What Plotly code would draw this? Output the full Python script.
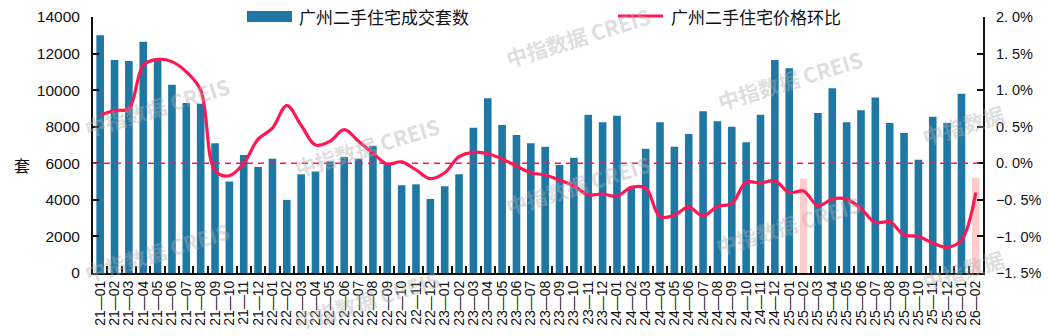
import plotly.graph_objects as go

# Month labels (YY-MM)
months = [
    "21-01", "21-02", "21-03", "21-04", "21-05", "21-06", "21-07", "21-08", "21-09", "21-10", "21-11", "21-12",
    "22-01", "22-02", "22-03", "22-04", "22-05", "22-06", "22-07", "22-08", "22-09", "22-10", "22-11", "22-12",
    "23-01", "23-02", "23-03", "23-04", "23-05", "23-06", "23-07", "23-08", "23-09", "23-10", "23-11", "23-12",
    "24-01", "24-02", "24-03", "24-04", "24-05", "24-06", "24-07", "24-08", "24-09", "24-10", "24-11", "24-12",
    "25-01", "25-02", "25-03", "25-04", "25-05", "25-06", "25-07", "25-08", "25-09", "25-10", "25-11", "25-12",
    "26-01", "26-02",
]

# Guangzhou second-hand housing transactions (units)
volume = [
    13000, 11650, 11600, 12650, 11650, 10300, 9300, 9250, 7100, 5000, 6450, 5800,
    6250, 4000, 5400, 5550, 6100, 6350, 6250, 6950, 5950, 4800, 4850, 4050,
    4750, 5400, 7950, 9550, 8100, 7550, 7100, 6900, 5900, 6300, 8650, 8250,
    8600, 4650, 6800, 8250, 6900, 7600, 8850, 8300, 8000, 7150, 8650, 11650,
    11200, 5150, 8750, 10100, 8250, 8900, 9600, 8200, 7650, 6200, 8550, 8200,
    9800, 5200,
]

# Guangzhou second-hand housing price, month-on-month change (%)
price_mom = [
    0.66, 0.72, 0.75, 1.34, 1.42, 1.39, 1.25, 1.00, -0.10, -0.17, 0.00, 0.33,
    0.48, 0.79, 0.52, 0.25, 0.30, 0.46, 0.30, 0.14, -0.01, 0.02, -0.09, -0.21,
    -0.13, 0.09, 0.15, 0.13, 0.06, -0.04, -0.13, -0.16, -0.23, -0.31, -0.43, -0.42,
    -0.45, -0.33, -0.34, -0.73, -0.71, -0.60, -0.72, -0.59, -0.55, -0.26, -0.27, -0.24,
    -0.40, -0.38, -0.58, -0.49, -0.49, -0.62, -0.81, -0.80, -0.98, -1.00, -1.09, -1.15,
    -1.05, -0.40,
]

# Spring Festival months, highlighted in pink
festival_months = ["25-02", "26-02"]

left_ticks = [0, 2000, 4000, 6000, 8000, 10000, 12000, 14000]
left_ticktext = ["0", "2000", "4000", "6000", "8000", "10000", "12000", "14000"]
right_ticks = [-1.5, -1.0, -0.5, 0.0, 0.5, 1.0, 1.5, 2.0]
right_ticktext = ["\u22121. 5%", "\u22121. 0%", "\u22120. 5%", "0. 0%", "0. 5%", "1. 0%", "1. 5%", "2. 0%"]

legend_bar = "广州二手住宅成交套数"
legend_line = "广州二手住宅价格环比"
watermark = "<b>中指数据 CREIS</b>"
watermark_short = "<b>中指数据</b>"

BAR_BLUE = "#1f78a3"
BAR_PINK = "#ffcccc"
LINE_RED = "#ff1654"
FONT = "Liberation Sans, Arial, Noto Sans CJK SC, sans-serif"
CJK_FONT = "Noto Sans CJK SC, sans-serif"

W, H = 1049, 336
ML, MR, MT, MB = 93, 66, 17, 63
PW, PH = W - ML - MR, H - MT - MB


def px(x):
    return (x - ML) / PW


def py(y):
    return (H - MB - y) / PH


bar_colors = [BAR_PINK if m in festival_months else BAR_BLUE for m in months]
tick_text = [m.replace("-", "\u2014") for m in months]

fig = go.Figure()
fig.add_trace(go.Bar(
    x=months, y=volume, marker=dict(color=bar_colors, line=dict(width=0)),
    name=legend_bar, yaxis="y", showlegend=False,
))
fig.add_trace(go.Scatter(
    x=months, y=price_mom, mode="lines", name=legend_line, yaxis="y2",
    line=dict(color=LINE_RED, width=3.2, shape="spline", smoothing=1.0),
    showlegend=False,
))

# zero line of the price axis
fig.add_shape(type="line", xref="paper", x0=0, x1=1, yref="y2", y0=0, y1=0,
              line=dict(color=LINE_RED, width=1.5, dash="6px,5px"), layer="above")

# custom legend
fig.add_shape(type="rect", xref="paper", yref="paper",
              x0=px(247), x1=px(292), y0=py(22), y1=py(11),
              fillcolor=BAR_BLUE, line=dict(width=0))
fig.add_annotation(xref="paper", yref="paper", x=px(297), y=py(16), text=legend_bar,
                   showarrow=False, xanchor="left", yanchor="middle",
                   font=dict(family=CJK_FONT, size=17, color="#111"))
fig.add_shape(type="line", xref="paper", yref="paper",
              x0=px(618), x1=px(663), y0=py(16), y1=py(16),
              line=dict(color=LINE_RED, width=3.2))
fig.add_annotation(xref="paper", yref="paper", x=px(669), y=py(16), text=legend_line,
                   showarrow=False, xanchor="left", yanchor="middle",
                   font=dict(family=CJK_FONT, size=17, color="#111"))

# left axis title
fig.add_annotation(xref="paper", yref="paper", x=px(22), y=py(165), text="套",
                   showarrow=False, xanchor="center", yanchor="middle",
                   font=dict(family=CJK_FONT, size=16, color="#111"))

# watermark stamps
stamps = [(157, 107, watermark), (157, 252, watermark), (367, 147, watermark),
          (367, 300, watermark), (578, 37, watermark), (578, 185, watermark),
          (790, 80, watermark), (788, 225, watermark),
          (963, 125, watermark_short), (963, 270, watermark_short)]
for wx, wy, wt in stamps:
    fig.add_annotation(xref="paper", yref="paper", x=px(wx), y=py(wy), text=wt,
                       showarrow=False, textangle=-17, xanchor="center", yanchor="middle",
                       font=dict(family=CJK_FONT, size=21, color="rgba(175,175,175,0.42)"))

fig.update_layout(
    width=W, height=H,
    margin=dict(l=ML, r=MR, t=MT, b=MB, pad=0, autoexpand=False),
    paper_bgcolor="white", plot_bgcolor="white",
    bargap=0.47,
    font=dict(family=FONT, color="#111"),
    xaxis=dict(
        type="category", tickmode="array", tickvals=months, ticktext=tick_text,
        tickangle=-90, tickfont=dict(size=14, family=FONT, color="#111"),
        ticks="inside", tickson="boundaries", ticklen=7, tickwidth=2, tickcolor="#111",
        showline=True, linecolor="#111", linewidth=2, showgrid=False, zeroline=False,
        range=[-0.5, len(months) - 0.5], automargin=False,
    ),
    yaxis=dict(
        range=[0, 14000], tickmode="array", tickvals=left_ticks, ticktext=left_ticktext,
        tickfont=dict(size=15.5, family=FONT, color="#111"),
        ticks="inside", ticklen=6, tickwidth=2, tickcolor="#111",
        showline=True, linecolor="#111", linewidth=2, showgrid=False, zeroline=False,
        ticklabelstandoff=8, automargin=False,
    ),
    yaxis2=dict(
        range=[-1.5, 2.0], overlaying="y", side="right", tickmode="array",
        tickvals=right_ticks, ticktext=right_ticktext,
        tickfont=dict(size=14.5, family=FONT, color="#111"),
        ticks="inside", ticklen=6, tickwidth=2, tickcolor="#111",
        showline=True, linecolor="#111", linewidth=2, showgrid=False, zeroline=False,
        ticklabelstandoff=8, automargin=False,
    ),
)

fig.write_html("out.html")
